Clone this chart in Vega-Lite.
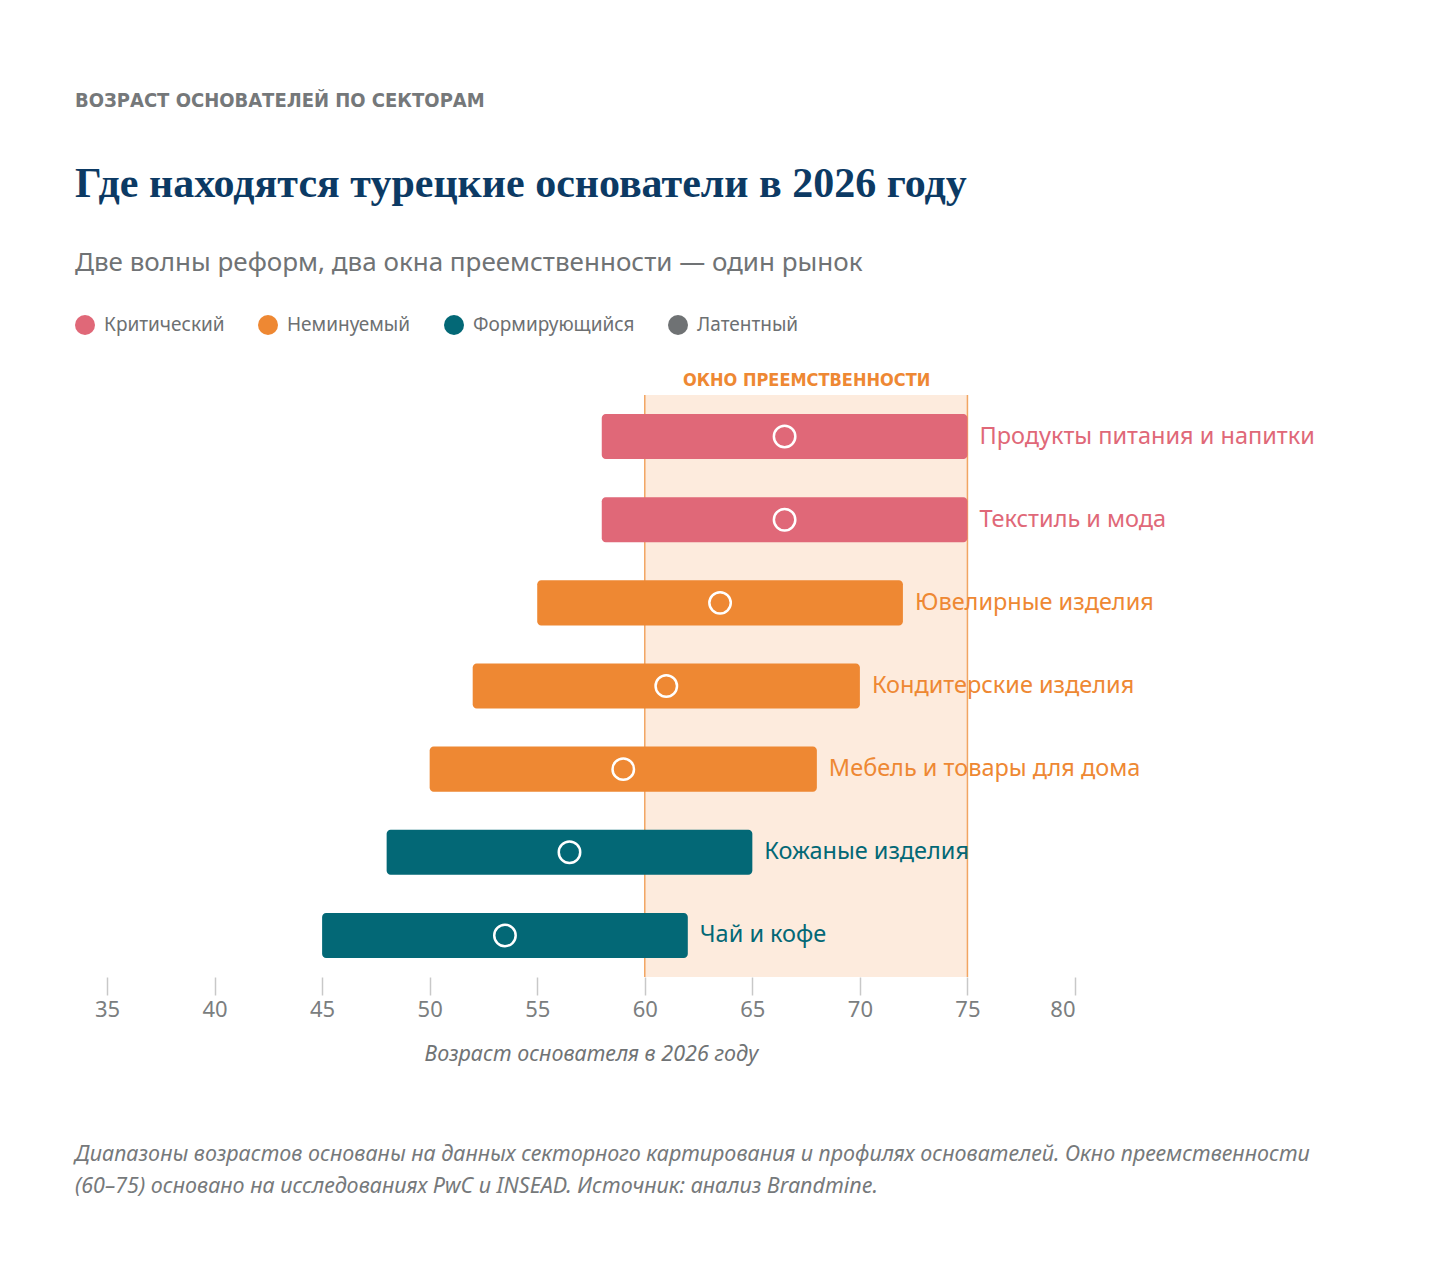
{
  "$schema": "https://vega.github.io/schema/vega-lite/v6.json",
  "background": "white",
  "padding": {"left": 75, "top": 91, "right": 20, "bottom": 20},
  "title": {
    "text": "ВОЗРАСТ ОСНОВАТЕЛЕЙ ПО СЕКТОРАМ",
    "anchor": "start",
    "offset": 52,
    "font": "DejaVu Sans Condensed",
    "fontSize": 20,
    "fontWeight": "bold",
    "color": "#75787a"
  },
  "config": {"view": {"stroke": null}},
  "resolve": {"scale": {"color": "independent"}, "legend": {"color": "independent"}},
  "vconcat": [
    {
      "title": {
        "text": ["Диапазоны возрастов основаны на данных секторного картирования и профилях основателей. Окно преемственности", "(60–75) основано на исследованиях PwC и INSEAD. Источник: анализ Brandmine."],
        "orient": "bottom",
        "anchor": "start",
        "offset": 79,
        "font": "Noto Sans",
        "fontStyle": "italic",
        "fontWeight": "normal",
        "fontSize": 21.5,
        "lineHeight": 32,
        "color": "#76797b"
      },
      "resolve": {"scale": {"color": "independent"}, "legend": {"color": "independent"}},
      "vconcat": [
        {
          "title": {
            "text": "Где находятся турецкие основатели в 2026 году",
            "subtitle": "Две волны реформ, два окна преемственности — один рынок",
            "anchor": "start",
            "offset": 38,
            "font": "Liberation Serif",
            "fontSize": 42,
            "fontWeight": "bold",
            "color": "#0c3a64",
            "subtitleFont": "Noto Sans",
            "subtitleFontSize": 26,
            "subtitleColor": "#707375",
            "subtitlePadding": 44
          },
          "width": 1000,
          "height": 582,
          "resolve": {"axis": {"x": "independent"}},
          "data": {"name": "sectors", "values": [
            {"sector": "Продукты питания и напитки", "status": "Критический", "lo": 58, "hi": 75, "mid": 66.5},
            {"sector": "Текстиль и мода", "status": "Критический", "lo": 58, "hi": 75, "mid": 66.5},
            {"sector": "Ювелирные изделия", "status": "Неминуемый", "lo": 55, "hi": 72, "mid": 63.5},
            {"sector": "Кондитерские изделия", "status": "Неминуемый", "lo": 52, "hi": 70, "mid": 61},
            {"sector": "Мебель и товары для дома", "status": "Неминуемый", "lo": 50, "hi": 68, "mid": 59},
            {"sector": "Кожаные изделия", "status": "Формирующийся", "lo": 48, "hi": 65, "mid": 56.5},
            {"sector": "Чай и кофе", "status": "Формирующийся", "lo": 45, "hi": 62, "mid": 53.5}
          ]},
          "layer": [
            {
              "data": {"values": [{"a": 60, "b": 75}]},
              "mark": {"type": "rect", "fill": "#fdebdd"},
              "encoding": {
                "x": {
                  "field": "a",
                  "type": "quantitative",
                  "scale": {"domain": [33.5125, 80], "nice": false, "zero": false},
                  "axis": {
                    "orient": "top",
                    "values": [67.5],
                    "labelExpr": "'ОКНО ПРЕЕМСТВЕННОСТИ'",
                    "labelLimit": 0,
                    "title": null,
                    "ticks": false,
                    "domain": false,
                    "grid": false,
                    "labelPadding": 6,
                    "labelFont": "DejaVu Sans Condensed",
                    "labelFontWeight": "bold",
                    "labelFontSize": 18,
                    "labelColor": "#ee8833"
                  }
                },
                "x2": {"field": "b"}
              }
            },
            {
              "data": {"values": [{"v": 60}, {"v": 75}]},
              "mark": {"type": "rule", "color": "#f2a562", "strokeWidth": 1.5},
              "encoding": {
                "x": {"field": "v", "type": "quantitative", "axis": null}
              }
            },
            {
              "mark": {"type": "bar", "cornerRadius": 4},
              "encoding": {
                "y": {"field": "sector", "type": "nominal", "sort": null, "axis": null,
                      "scale": {"paddingInner": 0.458, "paddingOuter": 0.229}},
                "x": {
                  "field": "lo",
                  "type": "quantitative",
                  "scale": {"domain": [33.5125, 80], "nice": false, "zero": false},
                  "axis": {
                    "orient": "bottom",
                    "values": [35, 40, 45, 50, 55, 60, 65, 70, 75, 80],
                    "title": "Возраст основателя в 2026 году",
                    "titleX": 516,
                    "domain": false,
                    "grid": false,
                    "tickColor": "#c8c8c8",
                    "tickSize": 18,
                    "tickWidth": 1.5,
                    "labelPadding": 4,
                    "labelFont": "Noto Sans",
                    "labelFontSize": 22,
                    "labelColor": "#7b7e80",
                    "titleFont": "Noto Sans",
                    "titleFontStyle": "italic",
                    "titleFontWeight": "normal",
                    "titleFontSize": 21.5,
                    "titleColor": "#707375",
                    "titlePadding": 23
                  }
                },
                "x2": {"field": "hi"},
                "color": {
                  "field": "status",
                  "type": "nominal",
                  "scale": {
                    "domain": ["Критический", "Неминуемый", "Формирующийся", "Латентный"],
                    "range": ["#e06878", "#ee8833", "#036876", "#6f7274"]
                  },
                  "legend": {
                    "orient": "top",
                    "offset": 36,
                    "padding": 0,
                    "direction": "horizontal",
                    "title": null,
                    "symbolType": "circle",
                    "symbolSize": 400,
                    "symbolStrokeWidth": 0,
                    "symbolOpacity": 1,
                    "labelFont": "Noto Sans",
                    "labelFontSize": 19,
                    "labelLimit": 0,
                    "labelColor": "#6d7072",
                    "labelOffset": 9,
                    "columnPadding": 33
                  }
                }
              }
            },
            {
              "mark": {"type": "point", "shape": "circle", "filled": false, "stroke": "white", "strokeWidth": 2.5, "size": 460, "opacity": 1},
              "encoding": {
                "y": {"field": "sector", "type": "nominal", "sort": null, "axis": null},
                "x": {"field": "mid", "type": "quantitative", "axis": null}
              }
            },
            {
              "mark": {"type": "text", "align": "left", "baseline": "middle", "dx": 12, "font": "Noto Sans", "fontSize": 23.5},
              "encoding": {
                "y": {"field": "sector", "type": "nominal", "sort": null, "axis": null},
                "x": {"field": "hi", "type": "quantitative", "axis": null},
                "text": {"field": "sector"},
                "color": {"field": "status", "type": "nominal"}
              }
            }
          ]
        }
      ]
    }
  ]
}
